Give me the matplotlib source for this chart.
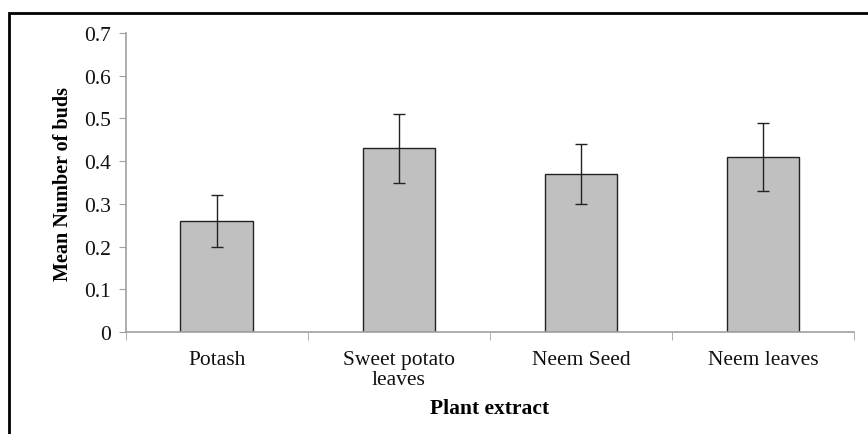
import matplotlib.pyplot as plt
import matplotlib.patches as patches
import numpy as np

extracts = ['Potash', 'Sweet potato\nleaves', 'Neem Seed', 'Neem leaves']
mean_buds = [0.26, 0.43, 0.37, 0.41]
err = [0.06, 0.08, 0.07, 0.08]
yticks = [0, 0.1, 0.2, 0.3, 0.4, 0.5, 0.6, 0.7]
ytick_labels = ['0', '0.1', '0.2', '0.3', '0.4', '0.5', '0.6', '0.7']

plt.rcParams['font.family'] = 'Liberation Serif'

fig = plt.figure(figsize=(8.68, 4.35), dpi=100)
ax = fig.add_axes([0.145, 0.2345, 0.839, 0.6873])

x = np.arange(len(extracts))
ax.bar(x, mean_buds, width=0.4, color='#c0c0c0', edgecolor='#222222', linewidth=1.0,
       yerr=err, capsize=4.5, error_kw={'ecolor': '#222222', 'elinewidth': 1.0, 'capthick': 1.0})

ax.set_xlim(-0.5, 3.5)
ax.set_ylim(0, 0.7)
ax.set_yticks(yticks)
ax.set_yticklabels(ytick_labels)
ax.set_xticks(x)
ax.set_xticklabels(extracts, linespacing=1.1)
ax.set_xticks(np.arange(-0.5, 4, 1), minor=True)
ax.tick_params(axis='x', which='major', length=0, pad=13, labelsize=15.5, labelcolor='#111111')
ax.tick_params(axis='x', which='minor', length=6, color='#a0a0a0', direction='out')
ax.tick_params(axis='y', length=5, color='#a0a0a0', pad=6, labelsize=15.5, labelcolor='#111111')

for s in ['top', 'right']:
    ax.spines[s].set_visible(False)
for s in ['left', 'bottom']:
    ax.spines[s].set_color('#a0a0a0')
    ax.spines[s].set_linewidth(1.2)

ax.set_xlabel('Plant extract', fontsize=15.5, fontweight='bold', labelpad=6)
ax.set_ylabel('Mean Number of buds', fontsize=14.5, fontweight='bold', labelpad=8)

# outer frame (only top and left visible in the crop)
frame = patches.Rectangle((9 / 868, -0.2), 1.2, 1 - 14 / 435 + 0.2, transform=fig.transFigure,
                          fill=False, edgecolor='black', linewidth=2.0, clip_on=False)
fig.patches.append(frame)

plt.savefig('out.png', dpi=100)
plt.close()
